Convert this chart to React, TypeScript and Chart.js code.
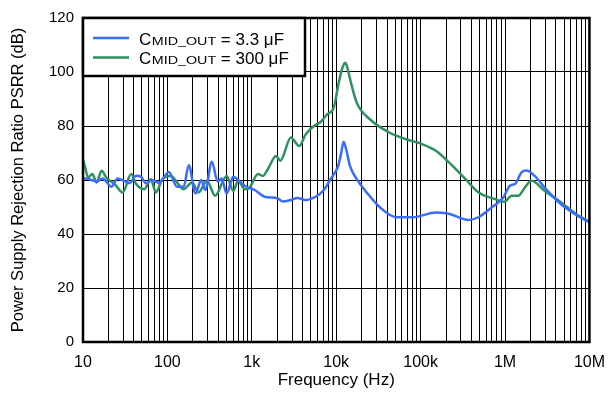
import React, { useEffect, useRef } from 'react';
import { Chart, registerables } from 'chart.js';

Chart.register(...registerables);

// ---- Data ----
const blueFreq = [10, 10.8, 12.6, 14.5, 17.1, 21.7, 25.7, 31, 35.5, 42.6, 48.7, 55.7, 66, 79.7, 104, 130, 156, 179, 215, 252, 281, 336, 394, 439, 503, 603, 722, 862, 1081, 1416, 2027, 2319, 2901, 3475, 4346, 5691, 7137, 8461, 9681, 10500, 11380, 12240, 13200, 14510, 17520, 22950, 32850, 51510, 80810, 151500, 215100, 371900, 482900, 698800, 955000, 1144000, 1310000, 1569000, 1795000, 2245000, 2940000, 4613000, 7216000, 10000000];
const blueDb = [60.5, 60.6, 60, 59.4, 60.6, 57.5, 60.6, 59.6, 58.8, 61.6, 61.2, 58.8, 60, 59, 63, 57.5, 57.5, 65.5, 55, 60, 56.3, 66.8, 59.4, 60.6, 55, 61.2, 59.4, 57.5, 56.3, 53.8, 53.2, 52, 52.6, 53.3, 52.6, 53.8, 56.3, 60, 62.8, 65, 69.5, 74.2, 71, 65.3, 60.3, 55.4, 49.9, 46.2, 46.2, 48, 47.5, 45.2, 46.2, 49.9, 53.5, 57.9, 58.5, 62.8, 63.5, 61.5, 57.2, 51, 46.8, 44.3];

const greenFreq = [10, 10.55, 11.5, 12.9, 14.5, 16.6, 18.9, 23.7, 29.6, 37.2, 42.6, 53.2, 63.7, 72.9, 87.2, 109, 156, 196, 234, 293, 368, 503, 603, 689, 826, 945, 1182, 1352, 1548, 1936, 2180, 2901, 3639, 4346, 5450, 6513, 7805, 9348, 10700, 11690, 12780, 13560, 14630, 17520, 25070, 43000, 67450, 105800, 151500, 216800, 340100, 486900, 763600, 981300, 1198000, 1431000, 1715000, 2054000, 2940000, 4613000, 7216000, 10000000];
const greenDb = [67.5, 65, 60.9, 62.2, 59.1, 63.4, 60.9, 58.5, 55.4, 62.2, 58.5, 56.6, 60.3, 55.4, 60.3, 61.5, 56.6, 59.1, 55.4, 59.7, 54.2, 61.5, 56, 59.7, 56.6, 57.2, 62.2, 61.5, 64, 68.9, 67.1, 75.7, 72.6, 76.9, 80, 81.5, 84.3, 86.8, 96, 101, 103.4, 101.5, 97.2, 88.6, 82.5, 77.5, 75.1, 73.2, 70.8, 66.5, 60.3, 55.4, 52.9, 51.9, 54.2, 54.2, 57.2, 59.7, 56, 51.7, 47, 44.5];

const xTickValues = [10, 100, 1000, 10000, 100000, 1000000, 10000000];
const xTickLabels = ['10', '100', '1k', '10k', '100k', '1M', '10M'];
const yMin = 0;
const yMax = 120;
const yStep = 20;

const legendPrefix = 'C';
const legendSub = 'MID_OUT';
const legendValues = ['3.3 μF', '300 μF'];
const seriesColors = ['#3a6cff', '#2e9160'];

const xTitle = 'Frequency (Hz)';
const yTitle = 'Power Supply Rejection Ratio PSRR (dB)';

const FONT = "'Liberation Sans', Arial, Helvetica, sans-serif";

export default function App() {
  const ref = useRef<HTMLCanvasElement>(null);

  useEffect(() => {
    if (!ref.current) return;

    const framePlugin = {
      id: 'frameAndLegend',
      afterDraw(chart: any) {
        const ctx = chart.ctx as CanvasRenderingContext2D;
        const a = chart.chartArea;
        ctx.save();
        ctx.strokeStyle = '#000';
        ctx.lineWidth = 2.5;
        ctx.strokeRect(a.left, a.top, a.right - a.left, a.bottom - a.top);

        const bx = a.left;
        const by = a.top;
        const bw = 222;
        const bh = 58;
        ctx.fillStyle = '#fff';
        ctx.fillRect(bx, by, bw, bh);
        ctx.strokeRect(bx, by, bw, bh);

        chart.data.datasets.forEach((ds: any, i: number) => {
          const ly = by + 20 + i * 19.5;
          ctx.strokeStyle = ds.borderColor;
          ctx.lineWidth = 2.5;
          ctx.beginPath();
          ctx.moveTo(bx + 10, ly);
          ctx.lineTo(bx + 46, ly);
          ctx.stroke();

          const base = ly + 6.5;
          let x = bx + 56;
          ctx.fillStyle = '#000';
          ctx.textAlign = 'left';
          ctx.textBaseline = 'alphabetic';
          ctx.font = `17px ${FONT}`;
          ctx.fillText(legendPrefix, x, base);
          x += ctx.measureText(legendPrefix).width + 0.5;
          ctx.font = `11px ${FONT}`;
          const subW = ctx.measureText(legendSub).width * 1.3;
          ctx.save();
          ctx.translate(x, base);
          ctx.scale(1.3, 1);
          ctx.fillText(legendSub, 0, 0);
          ctx.restore();
          x += subW;
          ctx.font = `17px ${FONT}`;
          ctx.fillText(' = ' + legendValues[i], x, base);
        });
        ctx.restore();
      },
    };

    const chart = new Chart(ref.current, {
      type: 'line',
      data: {
        datasets: [
          {
            label: legendPrefix + legendSub + ' = ' + legendValues[0],
            data: blueFreq.map((f, i) => ({ x: f, y: blueDb[i] })),
            borderColor: seriesColors[0],
            borderWidth: 2.5,
            pointRadius: 0,
            cubicInterpolationMode: 'monotone',
            fill: false,
          },
          {
            label: legendPrefix + legendSub + ' = ' + legendValues[1],
            data: greenFreq.map((f, i) => ({ x: f, y: greenDb[i] })),
            borderColor: seriesColors[1],
            borderWidth: 2.5,
            pointRadius: 0,
            cubicInterpolationMode: 'monotone',
            fill: false,
          },
        ],
      },
      options: {
        animation: false,
        responsive: false,
        devicePixelRatio: 1,
        layout: { padding: { top: 15, right: 20.5, left: 0, bottom: 0 } },
        plugins: {
          legend: { display: false },
          tooltip: { enabled: false },
        },
        scales: {
          x: {
            type: 'logarithmic',
            min: xTickValues[0],
            max: xTickValues[xTickValues.length - 1],
            afterBuildTicks: (s: any) => {
              const t: any[] = [];
              for (let d = 0; d < xTickValues.length - 1; d++) {
                for (let k = 1; k < 10; k++) t.push({ value: k * xTickValues[d] });
              }
              t.push({ value: xTickValues[xTickValues.length - 1] });
              s.ticks = t;
            },
            afterFit: (s: any) => {
              s.height = 53;
            },
            ticks: {
              autoSkip: false,
              maxRotation: 0,
              minRotation: 0,
              padding: 11,
              color: '#000',
              font: { family: FONT, size: 16 },
              callback: (v: any) => {
                const i = xTickValues.indexOf(Number(v));
                return i >= 0 ? xTickLabels[i] : '';
              },
            },
            grid: { color: '#000', lineWidth: 1, drawTicks: false },
            border: { display: false },
            title: {
              display: true,
              text: xTitle,
              color: '#000',
              font: { family: FONT, size: 17 },
              padding: { top: 0, bottom: 4 },
            },
          },
          y: {
            type: 'linear',
            min: yMin,
            max: yMax,
            afterFit: (s: any) => {
              s.width = 83;
            },
            ticks: {
              stepSize: yStep,
              padding: 9,
              color: '#000',
              font: { family: FONT, size: 15 },
            },
            grid: { color: '#000', lineWidth: 1, drawTicks: false },
            border: { display: false },
            title: {
              display: true,
              text: yTitle,
              color: '#000',
              font: { family: FONT, size: 16.5 },
              padding: { top: 8.5, bottom: 0 },
            },
          },
        },
      },
      plugins: [framePlugin],
    } as any);

    return () => chart.destroy();
  }, []);

  return (
    <div style={{ position: 'fixed', left: 0, top: 0, width: 616, height: 395, background: '#fff' }}>
      <canvas ref={ref} width={616} height={395} style={{ display: 'block' }} />
    </div>
  );
}
